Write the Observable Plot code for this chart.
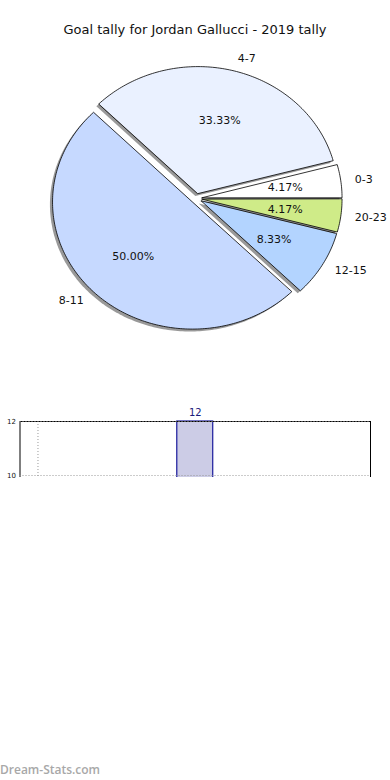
<!DOCTYPE html>
<html>
<head>
<meta charset="utf-8">
<script src="https://cdn.jsdelivr.net/npm/d3@7"></script>
<script src="https://cdn.jsdelivr.net/npm/@observablehq/plot@0.6"></script>
<style>
  html, body { margin: 0; padding: 0; background: #fff; }
  #page { position: relative; width: 390px; height: 780px; overflow: hidden; background: #fff; font-family: "DejaVu Sans", sans-serif; }
  #title { position: absolute; left: 0; top: 22px; width: 390px; text-align: center; font-size: 13px; line-height: 16px; color: #111; }
  #pie { position: absolute; left: 0; top: 0; }
  #bars { position: absolute; left: 0; top: 400px; width: 390px; height: 80px; overflow: hidden; }
  #mark { position: absolute; left: 0; top: 762px; font-family: "Open Sans", sans-serif; font-weight: 600; font-size: 12px; line-height: 16px; color: #a8a8a8; }
</style>
</head>
<body>
<div id="page">
  <div id="pie"></div>
  <div id="title">Goal tally for Jordan Gallucci - 2019 tally</div>
  <div id="bars"></div>
  <div id="mark">Dream-Stats.com</div>
</div>
<script>
// ---- data ----
const categories = ["0-3", "4-7", "8-11", "12-15", "20-23"];
const counts = [1, 8, 12, 2, 1];
const sliceColors = ["#ffffff", "#eaf1ff", "#c6d9ff", "#b3d4ff", "#cfeb88"];

const barLabels = ["12"];
const barValues = [12];
const barPositions = [0];
const barTicks = [10, 12];

// ---- pie geometry (unit circle, matplotlib style: start at 0°, counter-clockwise) ----
const explode = 0.04;
const total = d3.sum(counts);
let acc = 0;
const slices = categories.map((cat, i) => {
  const frac = counts[i] / total;
  const a0 = acc * 2 * Math.PI;
  acc += frac;
  const a1 = acc * 2 * Math.PI;
  const mid = (a0 + a1) / 2;
  const ox = explode * Math.cos(mid), oy = explode * Math.sin(mid);
  const n = Math.max(2, Math.ceil((a1 - a0) / (Math.PI / 180)));
  const pts = [{x: ox, y: oy}];
  for (let k = 0; k <= n; k++) {
    const t = a0 + (a1 - a0) * k / n;
    pts.push({x: ox + Math.cos(t), y: oy + Math.sin(t)});
  }
  return {
    cat, color: sliceColors[i], pts,
    lx: ox + 1.1 * Math.cos(mid), ly: oy + 1.1 * Math.sin(mid), right: Math.cos(mid) >= 0,
    px: ox + 0.6 * Math.cos(mid), py: oy + 0.6 * Math.sin(mid),
    pct: d3.format(".2f")(frac * 100) + "%"
  };
});

const rx = 140, ry = 127, cx = 196, cy = 198, H = 360;
const pieMarks = [];
for (const s of slices) {
  pieMarks.push(Plot.line(s.pts, {x: "x", y: "y", curve: "linear-closed", fill: "#333", fillOpacity: 0.5, stroke: "none", dx: -2.6, dy: 2.4}));
}
for (const s of slices) {
  pieMarks.push(Plot.line(s.pts, {x: "x", y: "y", curve: "linear-closed", fill: s.color, stroke: "#000", strokeWidth: 0.8}));
}
pieMarks.push(Plot.text(slices.filter(s => s.right), {x: "lx", y: "ly", text: "cat", textAnchor: "start", fill: "#111", fontSize: 11}));
pieMarks.push(Plot.text(slices.filter(s => !s.right), {x: "lx", y: "ly", text: "cat", textAnchor: "end", fill: "#111", fontSize: 11}));
pieMarks.push(Plot.text(slices, {x: "px", y: "py", text: "pct", textAnchor: "middle", fill: "#111", fontSize: 11}));

const pie = Plot.plot({
  width: 390, height: H, margin: 0,
  x: {domain: [-cx / rx, (390 - cx) / rx], range: [0, 390], axis: null},
  y: {domain: [(cy - H) / ry, cy / ry], range: [H, 0], axis: null},
  style: {fontFamily: "DejaVu Sans", background: "transparent", overflow: "visible"},
  marks: pieMarks
});
document.getElementById("pie").appendChild(pie);

// ---- bar chart (lower part of the axes is cropped away, as in the original image) ----
const bars = barValues.map((v, i) => ({label: barLabels[i], value: v, pos: barPositions[i]}));
const barPlot = Plot.plot({
  width: 390, height: 80,
  marginLeft: 19.5, marginRight: 20, marginTop: 21, marginBottom: 0,
  x: {domain: [-3.9, 3.9], range: [19.5, 370], axis: null},
  y: {domain: [8, 12], range: [129, 21], axis: null, label: null},
  style: {fontFamily: "DejaVu Sans", background: "transparent", overflow: "hidden"},
  marks: [
    Plot.gridX([-3.5], {stroke: "#999", strokeOpacity: 1, strokeDasharray: "1,2", strokeWidth: 1}),
    Plot.rectY(bars, {x1: d => d.pos - 0.4, x2: d => d.pos + 0.4, y1: 0, y2: "value", fill: "#ccccE6", stroke: "#1a1a9c", strokeWidth: 1.2}),
    Plot.frame({stroke: "#000", strokeWidth: 1}),
    // white mask for the cropped-off region below the lowest visible tick
    Plot.rect([0], {x1: -5, x2: 5, y1: 7, y2: barTicks[0], fill: "#fff", dy: 2}),
    Plot.gridY(barTicks, {stroke: "#999", strokeOpacity: 1, strokeDasharray: "1,2", strokeWidth: 1}),
    Plot.text(bars, {x: "pos", y: "value", text: "label", dy: -9, fill: "#1a1a7a", fontSize: 10}),
    Plot.axisY(barTicks, {tickSize: 0, tickPadding: 4, fontSize: 7, fill: "#111", label: null})
  ]
});
document.getElementById("bars").appendChild(barPlot);
</script>
</body>
</html>
